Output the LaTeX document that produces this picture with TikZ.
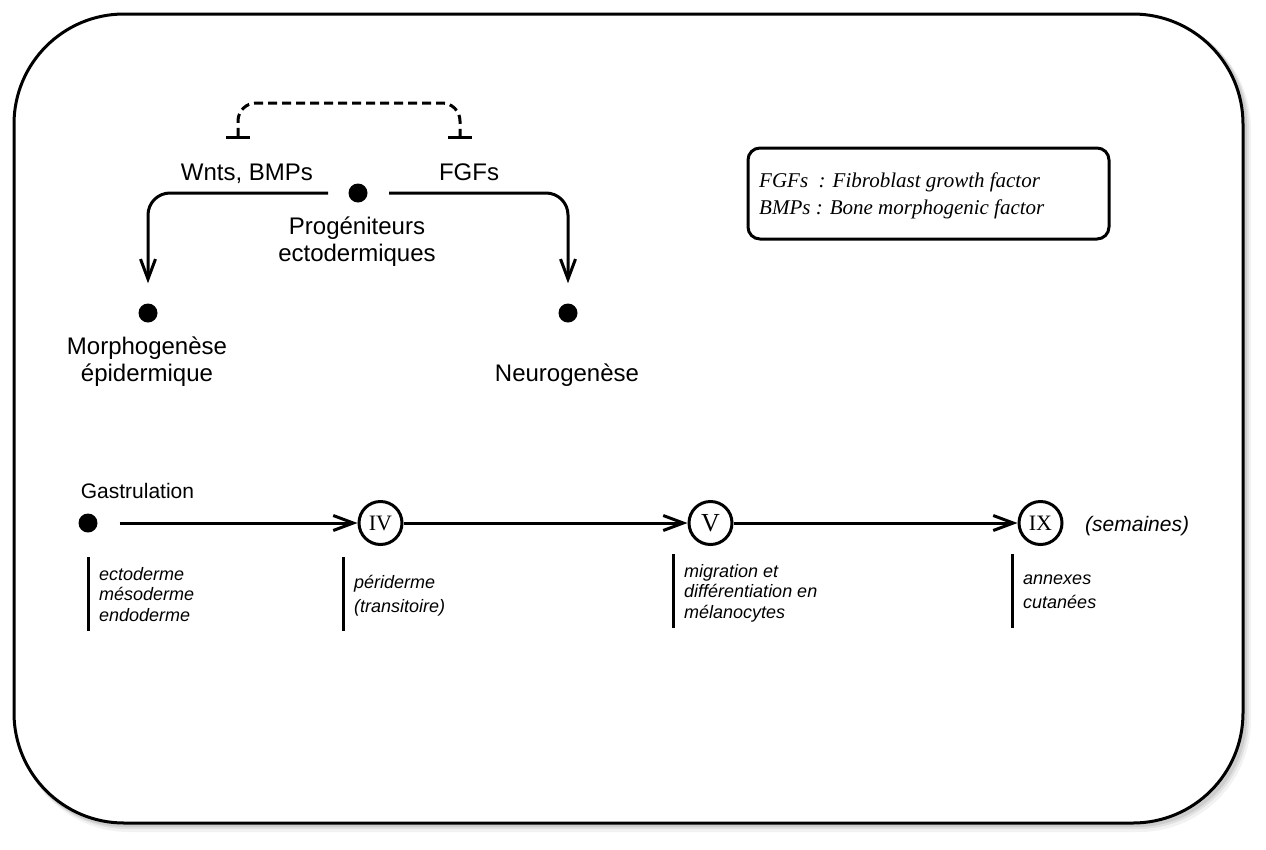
\documentclass[tikz,border=0pt]{standalone}
\usepackage{fontspec}
\setmainfont{Liberation Sans}
\newfontfamily\serifface{Liberation Serif}
\usetikzlibrary{arrows.meta}
\tikzset{
  dot/.style={circle, fill=black, inner sep=0pt, minimum size=19pt},
  lbl/.style={font=\fontsize{24}{27}\selectfont, inner sep=0pt, align=center, anchor=base},
  note/.style={font=\fontsize{18}{20.5}\selectfont\itshape, inner sep=0pt, align=left, anchor=base west},
  flow/.style={line width=3pt, -{Straight Barb[length=20pt,width=15pt,line width=3pt]}, rounded corners=22pt},
  stage/.style={circle, draw, line width=3pt, minimum size=43pt, inner sep=0pt, fill=white,
     text height=14pt, text depth=0pt, font=\serifface\fontsize{22}{22}\selectfont},
  vbar/.style={line width=3pt},
  inhib/.style={line width=3pt, dash pattern=on 9pt off 5pt, rounded corners=18pt,
     {Bar[width=24pt,line width=3pt]}-{Bar[width=24pt,line width=3pt]}}
}
\begin{document}
\begin{tikzpicture}[x=1pt,y=-1pt]
\useasboundingbox (0,0) rectangle (1266,849);
% shadow and frame
\fill[black, opacity=0.05, rounded corners=112pt] (17,17) rectangle (1251,832);
\fill[black, opacity=0.07, rounded corners=111pt] (16,16) rectangle (1249,829);
\fill[black, opacity=0.09, rounded corners=110pt] (15,15) rectangle (1247,827);
\node[draw, line width=3pt, fill=white, rounded corners=110pt, outer sep=0pt, inner sep=0pt,
      minimum width=1229pt, minimum height=809pt, anchor=north west] (frame) at (14,14) {};

% top part
\node[lbl] (wnts) at (247,180) {Wnts, BMPs};
\node[lbl] (fgfs) at (469,180) {FGFs};
\node[dot] (prog) at (358,193) {};
\node[lbl] (progt) at (357,261) {Progéniteurs\\ectodermiques};
\node[dot] (morph) at (148,313) {};
\node[dot] (neuro) at (568,313) {};
\node[lbl] (morpht) at (147,381) {Morphogenèse\\épidermique};
\node[lbl] (neurot) at (567,381) {Neurogenèse};

\draw[flow, shorten >=20pt] ([xshift=-30pt]prog.center) -| (morph.north);
\draw[flow, shorten >=20pt] ([xshift=31pt]prog.center) -| (neuro.north);

\coordinate (tl) at (238,139);
\coordinate (tr) at (460,139);
\coordinate (tm) at (349,103);
\draw[inhib] (tl) |- (tm) -| (tr);

% legend
\node[draw, line width=3pt, rounded corners=12pt, outer sep=0pt, inner sep=0pt,
      minimum width=361pt, minimum height=91pt, anchor=north west] (legend) at (748,148) {};
\node[font=\serifface\itshape\fontsize{21}{26.5}\selectfont, inner sep=0pt, align=left, anchor=base west]
   (legendt) at (759,214) {FGFs~ : Fibroblast growth factor\\BMPs : Bone morphogenic factor};

% timeline
\node[dot] (gast) at (88,523) {};
\node[font=\fontsize{21}{21}\selectfont, inner sep=0pt, anchor=base] (gastt) at (137.5,498) {Gastrulation};
\node[stage] (iv) at (380.5,523) {IV};
\node[stage, text height=17pt, font=\serifface\fontsize{26}{26}\selectfont] (v) at (710.5,523) {V};
\node[stage] (ix) at (1040.5,523) {IX};
\node[font=\fontsize{21}{21}\selectfont\itshape, inner sep=0pt, anchor=base west] (sem) at (1085,531) {(semaines)};

\draw[flow, shorten <=22pt] (gast) -- (iv);
\draw[flow] (iv) -- (v);
\draw[flow] (v) -- (ix);

\draw[vbar] (88,557) -- (88,631);
\draw[vbar] (343,557) -- (343,631);
\draw[vbar] (673,554) -- (673,628);
\draw[vbar] (1012,554) -- (1012,628);

\node[note] (n1) at (99,621) {ectoderme\\mésoderme\\endoderme};
\node[note, font=\fontsize{18}{24}\selectfont\itshape] (n2) at (354,612) {périderme\\(transitoire)};
\node[note] (n3) at (684,618) {migration et\\différentiation en\\mélanocytes};
\node[note, font=\fontsize{18}{24.5}\selectfont\itshape] (n4) at (1023,608.5) {annexes\\cutanées};
\end{tikzpicture}
\end{document}
